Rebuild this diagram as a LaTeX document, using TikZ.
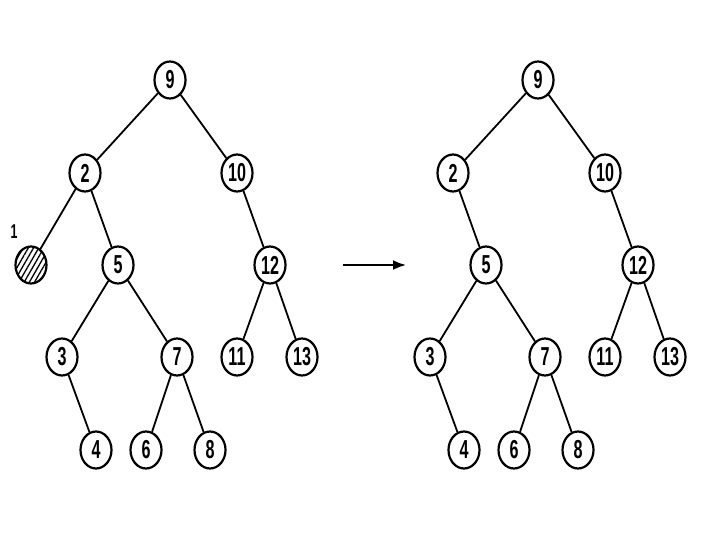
\documentclass[tikz,border=0pt]{standalone}
\usepackage{fontspec}
\setsansfont{Liberation Sans}[FakeStretch=0.62]
\usetikzlibrary{arrows.meta, shapes.geometric, patterns.meta}

\begin{document}
\begin{tikzpicture}[x=1pt, y=-1pt,
    key/.style={draw, ellipse, line width=2.2pt, minimum width=31pt,
                minimum height=37pt, inner sep=0pt,
                font=\sffamily\bfseries\fontsize{26}{26}\selectfont},
    edge/.style={line width=1.8pt}
  ]
  \useasboundingbox (0,0) rectangle (720,540);

  % tree before deleting 1
  \node[key] (a9) at (170,80) {9};
  \node[key] (a2) at (85,173) {2};
  \node[key] (a10) at (237,173) {10};
  \node[key, pattern={Lines[angle=60, distance=4.5pt, line width=1.3pt]}]
    (a1) at (31,265) {};
  \node[font=\sffamily\bfseries\fontsize{20}{20}\selectfont] (lab1) at (14,232) {1};
  \node[key] (a5) at (118,265) {5};
  \node[key] (a12) at (270,265) {12};
  \node[key] (a3) at (62,357) {3};
  \node[key] (a7) at (177,357) {7};
  \node[key] (a11) at (237,357) {11};
  \node[key] (a13) at (302,357) {13};
  \node[key] (a4) at (96,450) {4};
  \node[key] (a6) at (146,450) {6};
  \node[key] (a8) at (210,450) {8};

  \draw[edge] (a9) -- (a2);
  \draw[edge] (a9) -- (a10);
  \draw[edge] (a2) -- (a1);
  \draw[edge] (a2) -- (a5);
  \draw[edge] (a10) -- (a12);
  \draw[edge] (a5) -- (a3);
  \draw[edge] (a5) -- (a7);
  \draw[edge] (a12) -- (a11);
  \draw[edge] (a12) -- (a13);
  \draw[edge] (a3) -- (a4);
  \draw[edge] (a7) -- (a6);
  \draw[edge] (a7) -- (a8);

  % arrow
  \coordinate (arrL) at (343,265);
  \coordinate (arrR) at (406,265);
  \draw[line width=1.8pt, -{Latex[length=13pt, width=10pt]}] (arrL) -- (arrR);

  % tree after
  \node[key] (b9) at (538,80) {9};
  \node[key] (b2) at (453,173) {2};
  \node[key] (b10) at (605,173) {10};
  \node[key] (b5) at (486,265) {5};
  \node[key] (b12) at (638,265) {12};
  \node[key] (b3) at (430,357) {3};
  \node[key] (b7) at (545,357) {7};
  \node[key] (b11) at (605,357) {11};
  \node[key] (b13) at (670,357) {13};
  \node[key] (b4) at (464,450) {4};
  \node[key] (b6) at (514,450) {6};
  \node[key] (b8) at (578,450) {8};

  \draw[edge] (b9) -- (b2);
  \draw[edge] (b9) -- (b10);
  \draw[edge] (b2) -- (b5);
  \draw[edge] (b10) -- (b12);
  \draw[edge] (b5) -- (b3);
  \draw[edge] (b5) -- (b7);
  \draw[edge] (b12) -- (b11);
  \draw[edge] (b12) -- (b13);
  \draw[edge] (b3) -- (b4);
  \draw[edge] (b7) -- (b6);
  \draw[edge] (b7) -- (b8);
\end{tikzpicture}
\end{document}
